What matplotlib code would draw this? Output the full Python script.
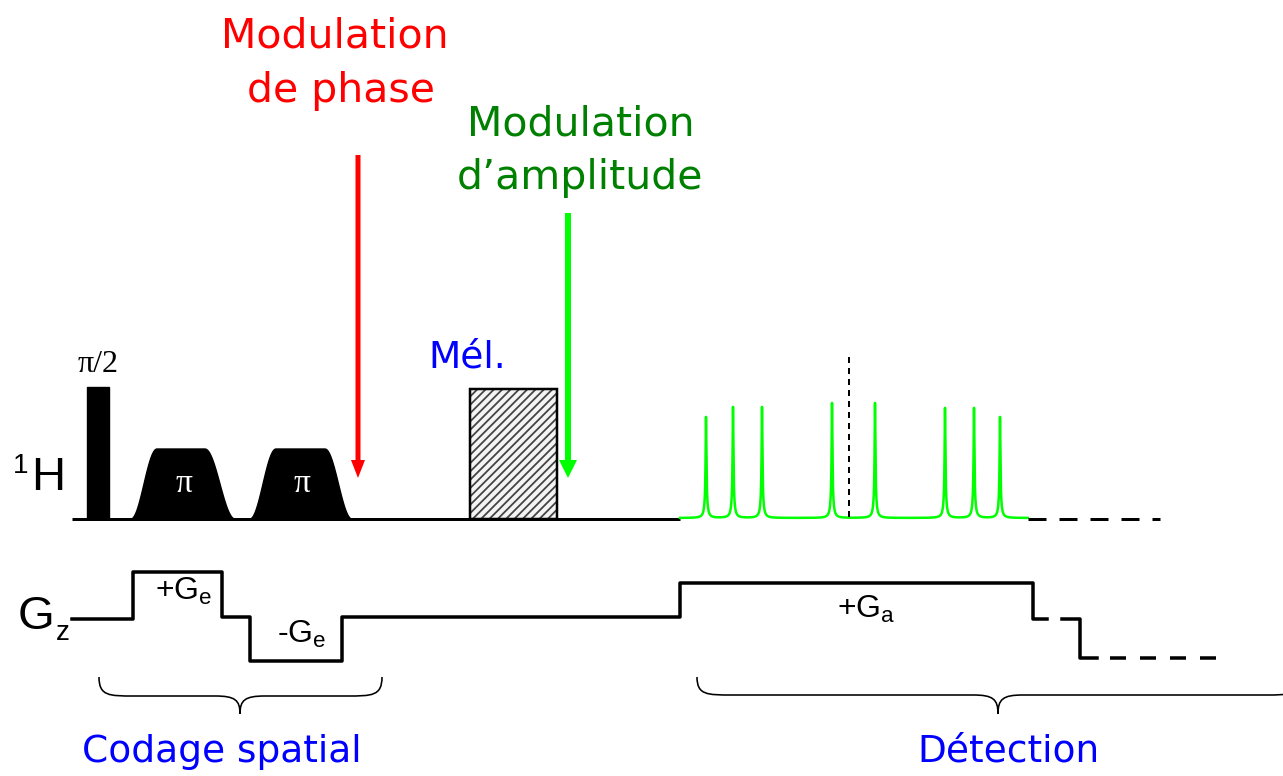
import matplotlib
matplotlib.use('Agg')
import matplotlib.pyplot as plt
import numpy as np
from matplotlib.patches import Rectangle, Polygon, FancyArrow, PathPatch
from matplotlib.path import Path

plt.rcParams['lines.scale_dashes'] = False
plt.rcParams['hatch.color'] = '#444444'
plt.rcParams['hatch.linewidth'] = 1.3
plt.rcParams['mathtext.fontset'] = 'custom'
plt.rcParams['mathtext.rm'] = 'Liberation Sans'

# everything is in pixel units of the original drawing (y grows downward)
rf_base = 519
hard_pulse = [87, 109, 387]                       # x0, x1, top
pi_pulses = [[131, 157, 205, 235], [250, 276, 325, 352]]  # base0, top0, top1, base1
pi_top = 449
mix_box = [470, 557, 389]
acq_start, acq_end, echo_x = 680, 1028, 849
peak_x = [706, 733, 762, 832, 875, 945, 974, 1000]
peak_h = [101, 111, 111, 115, 115, 110, 110, 101]

grad_t = [72, 133, 222, 250, 342, 680, 1033, 1047]
grad_y = [619, 572, 617, 661, 617, 583, 619, 619]

red = '#ff0000'
lime = '#00ff00'
dgreen = '#008000'
blue = '#0000ff'
comic = 'DejaVu Sans'
arial = 'Liberation Sans'
times = 'Liberation Serif'

fig = plt.figure(figsize=(12.83, 7.76), dpi=100)
ax = fig.add_axes([0, 0, 1, 1])
ax.set_xlim(0, 1283)
ax.set_ylim(776, 0)
ax.axis('off')

px = 0.72  # points per pixel

# ---- 1H channel ----
ax.plot([72, acq_start], [rf_base, rf_base], color='black', lw=3 * px, solid_capstyle='butt')
ax.add_patch(Rectangle((hard_pulse[0], hard_pulse[2]), hard_pulse[1] - hard_pulse[0],
                       rf_base - hard_pulse[2], color='black'))
ax.text((hard_pulse[0] + hard_pulse[1]) / 2, 372, 'π/2', family=times, fontsize=23,
        ha='center', va='baseline')

for b0, t0, t1, b1 in pi_pulses:
    s = np.linspace(0, 1, 40)
    edge = 0.5 - 0.5 * np.cos(np.pi * s)
    xs = np.concatenate([b0 + (t0 - b0) * s, t1 + (b1 - t1) * s])
    ys = np.concatenate([rf_base - (rf_base - pi_top) * edge,
                         pi_top + (rf_base - pi_top) * edge])
    ax.add_patch(Polygon(np.column_stack([xs, ys]), closed=True, color='black'))
    ax.text((b0 + b1) / 2 + 1, 492, 'π', family=times, fontsize=24, color='white',
            ha='center', va='baseline')

# mixing block
ax.add_patch(Rectangle((mix_box[0], mix_box[2]), mix_box[1] - mix_box[0], rf_base - mix_box[2],
                       facecolor='#f4f4f4', hatch='////', edgecolor='#444444', lw=0))
ax.add_patch(Rectangle((mix_box[0], mix_box[2]), mix_box[1] - mix_box[0], rf_base - mix_box[2],
                       facecolor='none', edgecolor='black', lw=2.5 * px))
ax.text(467, 367, 'Mél.', family=comic, fontsize=27, color=blue, ha='center', va='baseline')

# acquisition (echo spectrum)
xs = np.arange(acq_start, acq_end, 0.25)
sig = np.zeros_like(xs)
for p, h in zip(peak_x, peak_h):
    sig += 0.8 * h / (1 + ((xs - p) / 0.45) ** 2)
    sig += 0.2 * h / (1 + ((xs - p) / 1.4) ** 2)
ax.plot(xs, rf_base - 1 - sig, color=lime, lw=2.5 * px)
ax.plot([acq_end, 1160], [rf_base, rf_base], color='black', lw=3 * px,
        dashes=(18 * px, 13 * px), dash_capstyle='butt')
ax.plot([echo_x, echo_x], [357, 520], color='black', lw=2 * px, dashes=(6 * px, 5 * px))

ax.text(28, 473, '1', family=arial, fontsize=20, ha='right', va='baseline')
ax.text(31, 490, 'H', family=arial, fontsize=34, va='baseline')

# arrows and labels
ax.add_patch(FancyArrow(358, 155, 0, 323, width=5, head_width=14, head_length=18,
                        length_includes_head=True, color=red, lw=0))
ax.add_patch(FancyArrow(568, 213, 0, 265, width=6, head_width=18, head_length=18,
                        length_includes_head=True, color=lime, lw=0))
ax.text(335, 47, 'Modulation', family=comic, fontsize=29.5, color=red, ha='center', va='baseline')
ax.text(341, 102, 'de phase', family=comic, fontsize=29.5, color=red, ha='center', va='baseline')
ax.text(581, 135, 'Modulation', family=comic, fontsize=29.5, color=dgreen, ha='center', va='baseline')
ax.text(580, 189, 'd’amplitude', family=comic, fontsize=29.5, color=dgreen, ha='center', va='baseline')

# ---- Gz channel ----
ax.step(grad_t, grad_y, where='post', color='black', lw=3.5 * px)
ax.plot([1062, 1080, 1080, 1097], [619, 619, 658, 658], color='black', lw=3.5 * px)
ax.plot([1110, 1220], [658, 658], color='black', lw=3.5 * px,
        dashes=(16 * px, 14 * px), dash_capstyle='butt')

ax.text(18, 629, 'G', family=arial, fontsize=34, va='baseline')
ax.text(56, 640, 'z', family=arial, fontsize=20, va='baseline')
ax.text(184, 600, r'+G$_\mathregular{e}$', family=arial, fontsize=23, ha='center', va='baseline')
ax.text(302, 643, r'-G$_\mathregular{e}$', family=arial, fontsize=23, ha='center', va='baseline')
ax.text(866, 618, r'+G$_\mathregular{a}$', family=arial, fontsize=23, ha='center', va='baseline')


def brace(x0, x1, xc, ytop, ymid, ytip):
    verts = [(x0, ytop), (x0, ymid), (x0 + 10, ymid), (x0 + 35, ymid),
             (xc - 25, ymid),
             (xc - 5, ymid), (xc, ymid + 4), (xc, ytip),
             (xc, ymid + 4), (xc + 5, ymid), (xc + 25, ymid),
             (x1 - 35, ymid),
             (x1 - 10, ymid), (x1, ymid), (x1, ytop)]
    codes = [Path.MOVETO, Path.CURVE4, Path.CURVE4, Path.CURVE4, Path.LINETO,
             Path.CURVE4, Path.CURVE4, Path.CURVE4, Path.CURVE4, Path.CURVE4, Path.CURVE4,
             Path.LINETO, Path.CURVE4, Path.CURVE4, Path.CURVE4]
    ax.add_patch(PathPatch(Path(verts, codes), facecolor='none', edgecolor='black', lw=1.6 * px))


brace(99, 382, 240, 677, 696, 714)
brace(697, 1300, 998, 677, 695, 714)

ax.text(222, 762, 'Codage spatial', family=comic, fontsize=27, color=blue, ha='center', va='baseline')
ax.text(1008, 762, 'Détection', family=comic, fontsize=27, color=blue, ha='center', va='baseline')

fig.savefig('out.png', dpi=100)
